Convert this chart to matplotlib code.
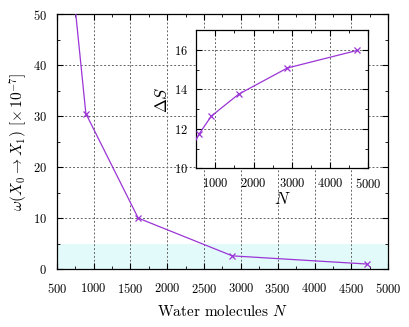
import matplotlib
matplotlib.use("Agg")
import matplotlib.pyplot as plt
from matplotlib.ticker import MultipleLocator

plt.rcParams['font.family'] = ['cmr10', 'DejaVu Serif']
plt.rcParams['mathtext.fontset'] = 'cm'
plt.rcParams['axes.formatter.use_mathtext'] = True

# Data
N_main = [300, 575, 894, 1605, 2883, 4710]
omega = [150.0, 76.0, 30.5, 10.0, 2.6, 1.0]
N_inset = [300, 575, 894, 1605, 2883, 4710]
delta_S = [10.7, 11.75, 12.65, 13.75, 15.08, 15.97]
shade_range = [0, 5]

line_color = '#9b35d6'
grid_kw = dict(color='0.4', linestyle=(0, (2, 2)), linewidth=0.7)

fig = plt.figure(figsize=(4.09, 3.27), dpi=100)
ax = fig.add_axes([0.139, 0.177, 0.810, 0.780])
ax.axhspan(shade_range[0], shade_range[1], color='#e3fafb', zorder=0.5, lw=0)
ax.plot(N_main, omega, color=line_color, marker='x', markersize=4.5, lw=0.9,
        markeredgewidth=0.9, zorder=3)
ax.set_xlim(500, 5000)
ax.set_ylim(0, 50)
ax.xaxis.set_major_locator(MultipleLocator(500))
ax.xaxis.set_minor_locator(MultipleLocator(250))
ax.yaxis.set_major_locator(MultipleLocator(10))
ax.yaxis.set_minor_locator(MultipleLocator(5))
ax.grid(True, which='major', **grid_kw)
ax.tick_params(which='both', direction='in', top=True, right=True, labelsize=9)
ax.tick_params(which='major', length=4)
ax.tick_params(which='minor', length=2)
ax.tick_params(axis='x', which='major', pad=9)
ax.tick_params(axis='y', which='major', pad=7)
ax.set_xlabel('Water molecules $N$', fontsize=11, labelpad=6)
ax.set_ylabel(r'$\omega(X_0 \rightarrow X_1)$ [$\times\,10^{-7}$]', fontsize=11, labelpad=2)
for s in ax.spines.values():
    s.set_linewidth(0.9)

ins = fig.add_axes([0.480, 0.485, 0.420, 0.423])
ins.plot(N_inset, delta_S, color=line_color, marker='x', markersize=4.5, lw=0.9,
         markeredgewidth=0.9, zorder=3)
ins.set_xlim(500, 5000)
ins.set_ylim(10, 17)
ins.xaxis.set_major_locator(MultipleLocator(1000))
ins.xaxis.set_minor_locator(MultipleLocator(500))
ins.yaxis.set_major_locator(MultipleLocator(2))
ins.yaxis.set_minor_locator(MultipleLocator(1))
ins.grid(True, which='major', **grid_kw)
ins.tick_params(which='both', direction='in', top=True, right=True, labelsize=9)
ins.tick_params(which='major', length=4)
ins.tick_params(which='minor', length=2)
ins.tick_params(axis='x', which='major', pad=6)
ins.tick_params(axis='y', which='major', pad=6)
ins.set_xlabel('$N$', fontsize=12, labelpad=0)
ins.set_ylabel(r'$\Delta S$', fontsize=12, labelpad=3)
for s in ins.spines.values():
    s.set_linewidth(0.9)

fig.savefig('out.png', dpi=100)
